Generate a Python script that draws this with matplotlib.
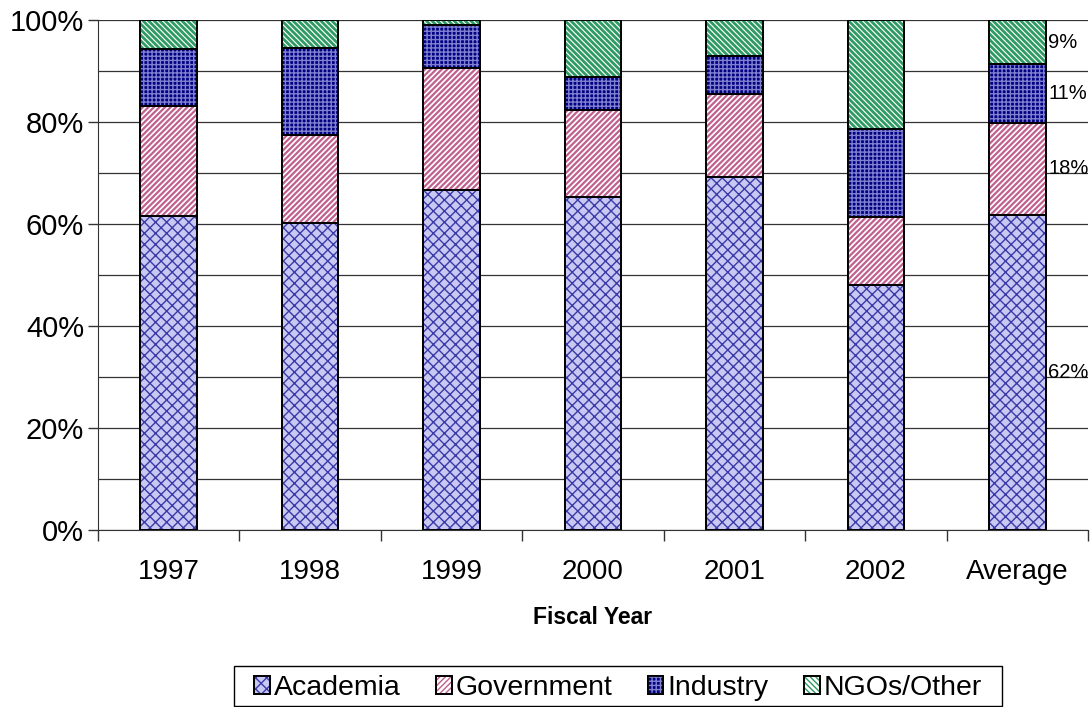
import numpy as np
import matplotlib
matplotlib.use("Agg")
import matplotlib.pyplot as plt
from matplotlib.patches import Rectangle
from matplotlib.ticker import MultipleLocator, FixedLocator, PercentFormatter

plt.rcParams['font.family'] = ['Liberation Sans', 'DejaVu Sans']

years = ['1997', '1998', '1999', '2000', '2001', '2002', 'Average']
sectors = ['Academia', 'Government', 'Industry', 'NGOs/Other']

academia = [61.6, 60.1, 66.7, 65.3, 69.3, 48.0, 61.8]
government = [21.5, 17.4, 23.9, 17.0, 16.2, 13.4, 18.1]
industry = [11.3, 17.0, 8.4, 6.5, 7.4, 17.2, 11.4]
ngo_other = [5.6, 5.5, 1.0, 11.2, 7.1, 21.4, 8.7]

# face colour, hatch colour, hatch pattern, hatch width
styles = [
    ('#c8c8f2', '#3a3aa8', 'xxx', 1.0),
    ('white', '#c0608f', '//////', 1.6),
    ('#000080', '#8080d0', '++++', 1.0),
    ('white', '#2f9a63', '\\\\\\\\\\\\', 2.0),
]

W, H = 1091, 707
fig = plt.figure(figsize=(W / 100, H / 100), dpi=100)
ax = fig.add_axes([98 / W, 1 - 530 / H, 990 / W, 510 / H])

x = np.arange(len(years))
width = 0.4
bottom = np.zeros(len(years))
handles = []
for vals, (face, hcol, hatch, hlw) in zip([academia, government, industry, ngo_other], styles):
    vals = np.array(vals)
    base = ax.bar(x, vals, width, bottom=bottom, color=face, edgecolor='black',
                  linewidth=1.3, zorder=2)
    with plt.rc_context({'hatch.linewidth': hlw}):
        over = ax.bar(x, vals, width, bottom=bottom, color='none', edgecolor=hcol,
                      hatch=hatch, linewidth=0, zorder=3)
    edge = ax.bar(x, vals, width, bottom=bottom, color='none', edgecolor='black',
                  linewidth=1.3, zorder=4)
    handles.append((base[0], over[0], edge[0]))
    bottom += vals

# labels next to the Average bar
avg = [academia[-1], government[-1], industry[-1], ngo_other[-1]]
cum = 0
for v in avg:
    ax.text(x[-1] + width / 2 + 0.02, cum + v / 2, f'{round(v):.0f}%',
            ha='left', va='center', fontsize=14.5)
    cum += v

ax.set_xlim(-0.5, len(years) - 0.5)
ax.set_ylim(0, 100)
ax.yaxis.set_major_locator(MultipleLocator(20))
ax.yaxis.set_minor_locator(MultipleLocator(10))
ax.yaxis.set_major_formatter(PercentFormatter(decimals=0))
ax.grid(axis='y', which='both', color='#333333', linewidth=0.9, zorder=0)
ax.set_axisbelow(True)

ax.set_xticks(x)
ax.set_xticklabels(years)
ax.xaxis.set_minor_locator(FixedLocator(np.arange(-0.5, len(years), 1.0)))
ax.tick_params(axis='x', which='major', length=0, pad=21, labelsize=20)
ax.tick_params(axis='x', which='minor', length=8, width=1, color='#333333')
ax.tick_params(axis='y', which='major', length=7.5, width=1, color='#333333',
               labelsize=21, pad=2.5)
ax.tick_params(axis='y', which='minor', length=0)

for s in ['top', 'right']:
    ax.spines[s].set_visible(False)
ax.spines['left'].set_color('#333333')
ax.spines['bottom'].set_color('#333333')

ax.set_xlabel('Fiscal Year', fontsize=16.5, fontweight='bold', labelpad=15)

leg = fig.legend(handles, sectors, loc='center left', bbox_to_anchor=(254 / W, 1 - 688 / H),
                 ncol=4, frameon=False, fontsize=20.5,
                 handlelength=0.56, handleheight=0.56, handletextpad=0.15,
                 columnspacing=1.22, borderpad=0, borderaxespad=0)

# legend frame drawn separately (wide side padding, tight top/bottom)
fig.canvas.draw()
ext = leg.get_window_extent()
x0 = ext.x0 - 20
x1 = ext.x1 + 20
fig.patches.append(Rectangle((x0 / W, 1 - 706 / H), (x1 - x0) / W, 40 / H,
                             transform=fig.transFigure, fill=False,
                             edgecolor='black', linewidth=1.0, zorder=5))

fig.savefig('out.png', dpi=100)
